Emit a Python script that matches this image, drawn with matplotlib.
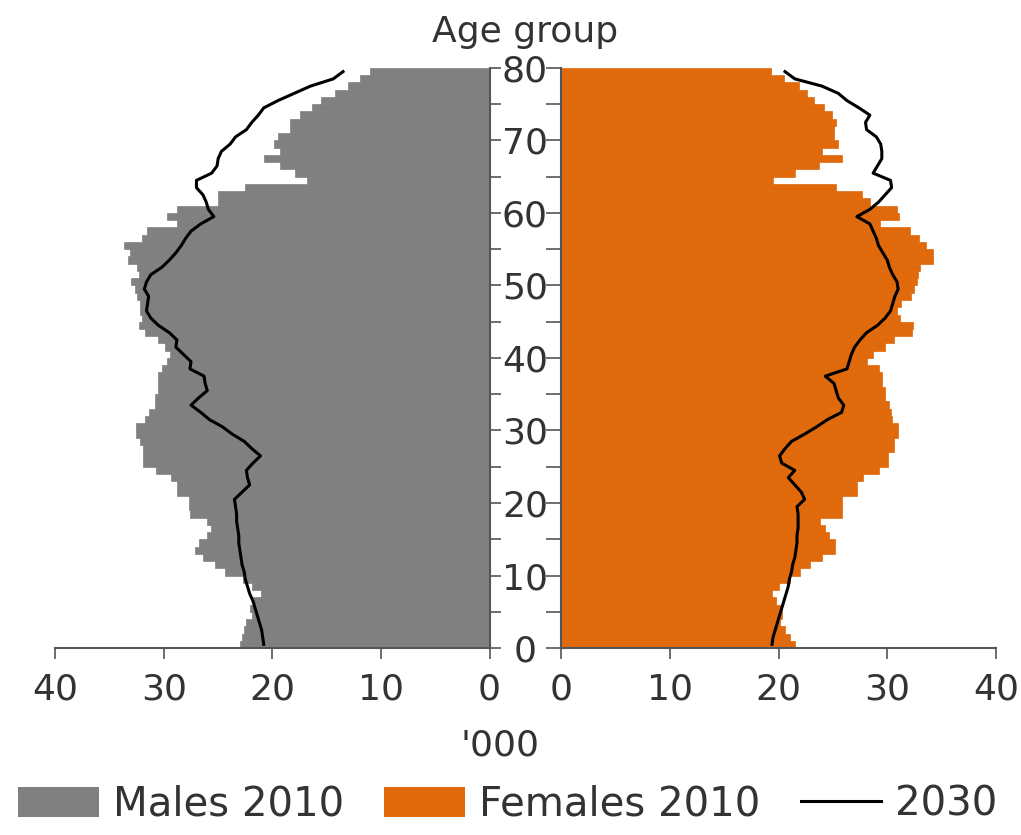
#!/usr/bin/env python3
"""
Population pyramid: males / females 2010 with 2030 projection outline
"""

import numpy as np
import matplotlib
matplotlib.use("Agg")
import matplotlib.pyplot as plt
from matplotlib.patches import Patch
from matplotlib.lines import Line2D

# Single years of age, 0 .. 79
ages = np.arange(0, 80)

# Thousands of people (index = age)
males_2010 = [
    23.0, 22.8, 22.6, 22.4, 21.9, 22.1, 21.8, 21.1, 21.9, 22.7,
    24.4, 25.3, 26.4, 27.1, 26.8, 26.0, 25.7, 26.0, 27.6, 27.7,
    27.7, 28.8, 28.8, 29.3, 30.7, 31.9, 31.9, 31.9, 32.2, 32.6,
    32.6, 31.7, 31.4, 30.8, 30.8, 30.5, 30.5, 30.5, 30.2, 29.7,
    29.4, 29.9, 30.5, 31.7, 32.3, 32.0, 32.2, 32.2, 32.5, 32.7,
    33.0, 32.3, 32.5, 33.3, 33.1, 33.7, 32.0, 31.6, 28.8, 29.7,
    28.8, 25.0, 25.0, 22.5, 16.8, 17.9, 19.3, 20.8, 19.3, 19.9,
    19.5, 18.4, 18.4, 17.5, 16.4, 15.5, 14.2, 13.0, 11.9, 11.0,
]

females_2010 = [
    21.5, 21.1, 20.6, 20.1, 20.3, 20.3, 19.8, 19.4, 20.0, 21.1,
    22.0, 22.9, 24.0, 25.2, 25.2, 24.6, 24.3, 23.8, 25.8, 25.8,
    25.8, 27.2, 27.2, 27.8, 29.2, 30.1, 30.1, 30.6, 30.6, 31.0,
    31.0, 30.4, 30.3, 30.2, 29.8, 29.8, 29.5, 29.5, 29.2, 28.1,
    28.7, 29.8, 30.6, 32.3, 32.4, 31.2, 30.9, 31.3, 32.2, 32.5,
    32.7, 32.8, 33.0, 34.2, 34.2, 33.6, 32.9, 32.1, 29.3, 31.1,
    30.9, 28.4, 27.7, 25.3, 19.5, 21.5, 23.7, 25.8, 24.0, 25.5,
    25.1, 25.1, 25.3, 24.9, 24.2, 23.3, 22.6, 21.9, 20.5, 19.3,
]

males_2030 = [
    20.8, 20.9, 21.0, 21.2, 21.4, 21.6, 21.8, 22.1, 22.3, 22.5,
    22.6, 22.8, 22.9, 23.0, 23.1, 23.1, 23.2, 23.3, 23.3, 23.4,
    23.5, 22.8, 22.1, 22.3, 22.4, 21.8, 21.1, 21.9, 22.6, 23.7,
    24.6, 25.8, 26.6, 27.5, 26.8, 26.0, 26.2, 26.3, 27.6, 27.5,
    28.2, 28.9, 28.8, 29.5, 30.5, 31.2, 31.6, 31.5, 31.4, 31.8,
    31.6, 31.2, 30.2, 29.5, 28.9, 28.4, 28.0, 27.5, 26.6, 25.4,
    25.9, 26.1, 26.4, 27.0, 27.0, 25.6, 25.1, 25.0, 24.7, 23.9,
    23.4, 22.4, 21.9, 21.3, 20.8, 19.5, 18.0, 16.5, 14.4, 13.5,
]

females_2030 = [
    19.4, 19.5, 19.7, 19.9, 20.1, 20.3, 20.5, 20.7, 20.9, 21.0,
    21.2, 21.3, 21.5, 21.6, 21.7, 21.7, 21.8, 21.8, 21.8, 21.7,
    22.4, 22.1, 21.5, 20.9, 21.5, 20.3, 20.1, 20.6, 21.2, 22.4,
    23.5, 24.5, 25.8, 26.0, 25.5, 25.3, 25.1, 24.3, 26.3, 26.5,
    26.7, 27.0, 27.5, 28.1, 29.1, 29.8, 30.3, 30.5, 30.7, 31.0,
    30.9, 30.5, 30.2, 30.0, 29.6, 29.2, 29.0, 28.7, 28.4, 27.2,
    28.4, 29.2, 29.8, 30.4, 30.3, 28.7, 29.1, 29.5, 29.5, 29.4,
    29.0, 28.1, 28.0, 28.4, 27.4, 26.3, 25.5, 24.0, 21.5, 20.6,
]

x_ticks = [0, 10, 20, 30, 40]
age_ticks = list(range(0, 81, 10))
age_minor = list(range(5, 80, 10))
legend_labels = ["Males 2010", "Females 2010", "2030"]

GREY = "#808080"
ORANGE = "#E0690B"
TEXT = "#333333"
AXIS = "#555555"
FS = 26


def style_axis(ax):
    """Common spine / tick look for both halves"""
    ax.set_ylim(0, 80)
    ax.set_xlim(0, 40)
    ax.set_xticks(x_ticks)
    ax.set_yticks(age_ticks)
    ax.set_yticks(age_minor, minor=True)
    ax.spines["top"].set_visible(False)
    for side in ["bottom", "left", "right"]:
        ax.spines[side].set_color(AXIS)
        ax.spines[side].set_linewidth(1.5)
    ax.tick_params(axis="x", direction="out", length=8, width=1.2,
                   color=AXIS, labelsize=FS, labelcolor=TEXT, pad=10)
    ax.tick_params(axis="y", which="both", direction="out", width=1.2,
                   color=AXIS)


def main():
    fig = plt.figure(figsize=(10.21, 8.35), dpi=100)
    W, H = 1021.0, 835.0
    bottom = (H - 648) / H
    height = (648 - 68) / H

    ax_m = fig.add_axes([55.3 / W, bottom, (489.6 - 55.3) / W, height])
    ax_f = fig.add_axes([561 / W, bottom, (996 - 561) / W, height])

    ypos = ages + 0.5

    # males on the left
    ax_m.barh(ypos, males_2010, height=1.0, color=GREY, edgecolor=GREY,
              linewidth=0.5)
    ax_m.plot(males_2030, ypos, color="black", linewidth=2.2)
    style_axis(ax_m)
    ax_m.invert_xaxis()
    ax_m.spines["left"].set_visible(False)
    ax_m.yaxis.tick_right()
    ax_m.tick_params(axis="y", which="both", length=8, labelright=False)

    # females on the right
    ax_f.barh(ypos, females_2010, height=1.0, color=ORANGE, edgecolor=ORANGE,
              linewidth=0.5)
    ax_f.plot(females_2030, ypos, color="black", linewidth=2.2)
    style_axis(ax_f)
    ax_f.spines["right"].set_visible(False)
    ax_f.tick_params(axis="y", which="both", length=10.5, pad=15.5,
                     labelsize=FS, labelcolor=TEXT)
    for lab in ax_f.get_yticklabels():
        lab.set_horizontalalignment("center")

    fig.text(525 / W, 1 - 42 / H, "Age group", ha="center", va="baseline",
             fontsize=FS, color=TEXT)
    fig.text(500 / W, 1 - 755 / H, "'000", ha="center", va="baseline",
             fontsize=FS, color=TEXT)

    handles = [
        Patch(facecolor=GREY, edgecolor="none"),
        Patch(facecolor=ORANGE, edgecolor="none"),
        Line2D([0], [0], color="black", linewidth=2.2),
    ]
    fig.legend(handles, legend_labels, loc="center",
               bbox_to_anchor=(508 / W, 1 - 805 / H), ncol=3, frameon=False,
               fontsize=29, labelcolor=TEXT, handlelength=2.0,
               handleheight=0.8, handletextpad=0.35, columnspacing=1.0)

    fig.savefig("out.png", dpi=100)


if __name__ == "__main__":
    main()
